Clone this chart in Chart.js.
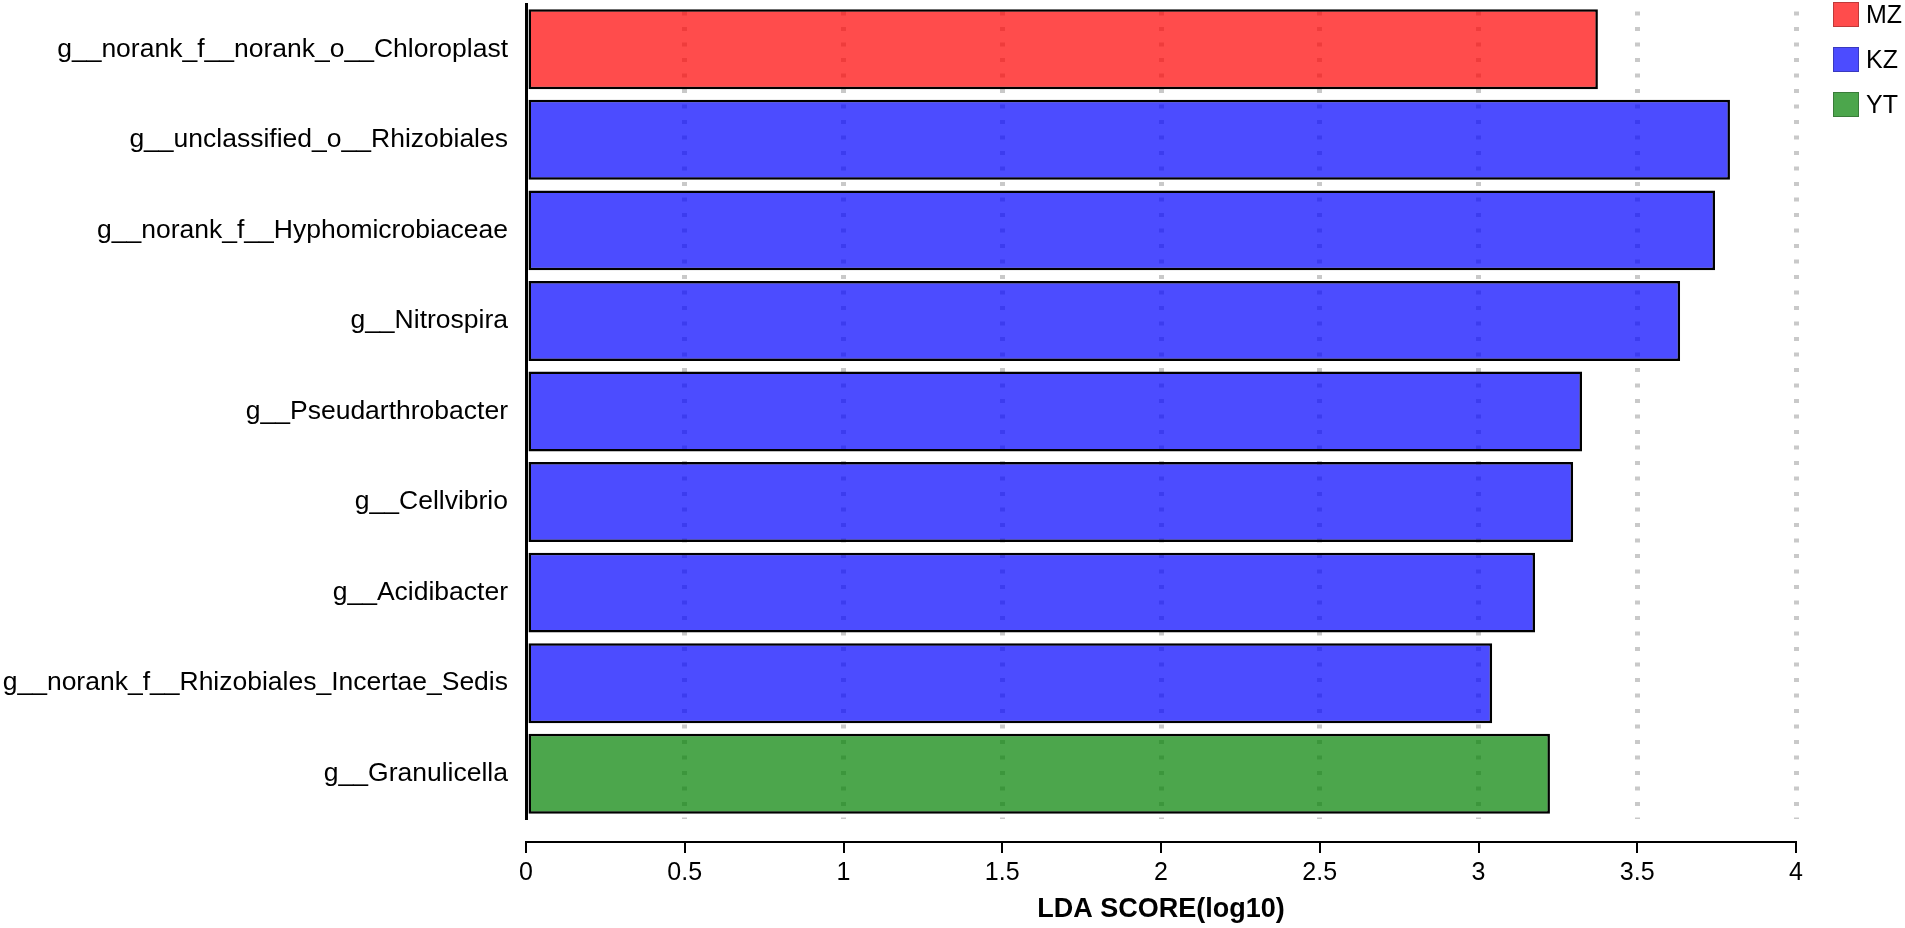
<!DOCTYPE html>
<html>
<head>
<meta charset="utf-8">
<script src="https://cdn.jsdelivr.net/npm/chart.js@4/dist/chart.umd.min.js"></script>
<style>
  html, body { margin: 0; padding: 0; background: #fff; }
  #wrap { width: 1905px; height: 928px; position: relative; }
</style>
</head>
<body>
<div id="wrap"><canvas id="lda"></canvas></div>
<script>
// taxa, top to bottom
const categories = [
    'g__norank_f__norank_o__Chloroplast',
    'g__unclassified_o__Rhizobiales',
    'g__norank_f__Hyphomicrobiaceae',
    'g__Nitrospira',
    'g__Pseudarthrobacter',
    'g__Cellvibrio',
    'g__Acidibacter',
    'g__norank_f__Rhizobiales_Incertae_Sedis',
    'g__Granulicella'
];
const ldaScores = [3.376, 3.792, 3.745, 3.635, 3.326, 3.298, 3.178, 3.043, 3.225];
const groupOf = ['MZ', 'KZ', 'KZ', 'KZ', 'KZ', 'KZ', 'KZ', 'KZ', 'YT'];

const groupNames = ['MZ', 'KZ', 'YT'];
const groupColors = ['rgba(255, 0, 0, 0.7)', 'rgba(0, 0, 255, 0.7)', 'rgba(0, 128, 0, 0.7)'];

const axisMin = 0;
const axisMax = 4;
const axisStep = 0.5;
const axisTitle = 'LDA SCORE(log10)';

const FONT = '"Liberation Sans", Arial, Helvetica, sans-serif';

const barColors = groupOf.map(g => groupColors[groupNames.indexOf(g)]);

// legend in the top right corner, squares + group names
const groupLegend = {
    id: 'groupLegend',
    afterDraw(chart) {
        const ctx = chart.ctx;
        ctx.save();
        ctx.font = '25px ' + FONT;
        ctx.textBaseline = 'middle';
        ctx.textAlign = 'left';
        groupNames.forEach((name, i) => {
            const x = chart.width - 72;
            const y = 2 + i * 45;
            ctx.fillStyle = groupColors[i];
            ctx.fillRect(x, y, 26, 25);
            ctx.strokeStyle = 'rgba(0, 0, 0, 0.25)';
            ctx.lineWidth = 1;
            ctx.strokeRect(x + 0.5, y + 0.5, 25, 24);
            ctx.fillStyle = '#000';
            ctx.fillText(name, x + 33, y + 14);
        });
        ctx.restore();
    }
};

const ctx = document.getElementById('lda').getContext('2d');
new Chart(ctx, {
    type: 'bar',
    data: {
        labels: categories,
        datasets: [{
            label: 'LDA',
            data: ldaScores,
            backgroundColor: barColors,
            borderColor: '#000',
            borderWidth: 2.5,
            borderSkipped: false,
            barPercentage: 0.883,
            categoryPercentage: 1
        }]
    },
    options: {
        indexAxis: 'y',
        responsive: true,
        maintainAspectRatio: false,
        animation: false,
        layout: { padding: { top: 4, right: 109, bottom: 0, left: 0 } },
        plugins: {
            legend: { display: false },
            tooltip: { enabled: false }
        },
        scales: {
            // grid only, the gap of 23px separates the axis line from the bars
            x: {
                type: 'linear',
                position: 'bottom',
                min: axisMin,
                max: axisMax,
                ticks: { display: false, stepSize: axisStep },
                grid: {
                    color: ctx => ctx.tick && ctx.tick.value === 0 ? 'transparent' : '#c9c9c9',
                    lineWidth: 5,
                    drawTicks: true,
                    tickLength: 23,
                    tickColor: 'transparent'
                },
                border: { display: false, dash: [4, 11.5], dashOffset: 8 }
            },
            x2: {
                type: 'linear',
                position: 'bottom',
                min: axisMin,
                max: axisMax,
                ticks: {
                    stepSize: axisStep,
                    padding: 5,
                    color: '#000',
                    font: { family: FONT, size: 25 },
                    callback: v => String(+v)
                },
                grid: {
                    drawOnChartArea: false,
                    drawTicks: true,
                    tickLength: 11,
                    color: '#000',
                    lineWidth: 2
                },
                border: { display: true, color: '#000', width: 2 },
                title: {
                    display: true,
                    text: axisTitle,
                    color: '#000',
                    padding: { top: 0, bottom: 2.6 },
                    font: { family: FONT, size: 27, weight: 'bold' }
                }
            },
            y: {
                ticks: {
                    padding: 0,
                    color: '#000',
                    font: { family: FONT, size: 26.5 }
                },
                grid: {
                    display: true,
                    drawOnChartArea: false,
                    drawTicks: true,
                    tickLength: 18,
                    color: 'transparent',
                    tickColor: 'transparent'
                },
                border: { display: true, color: '#000', width: 3 },
                afterFit: s => {
                    s.paddingTop = 0;
                    s.paddingBottom = 0;
                    s.width = 526;
                }
            }
        }
    },
    plugins: [groupLegend]
});
</script>
</body>
</html>
